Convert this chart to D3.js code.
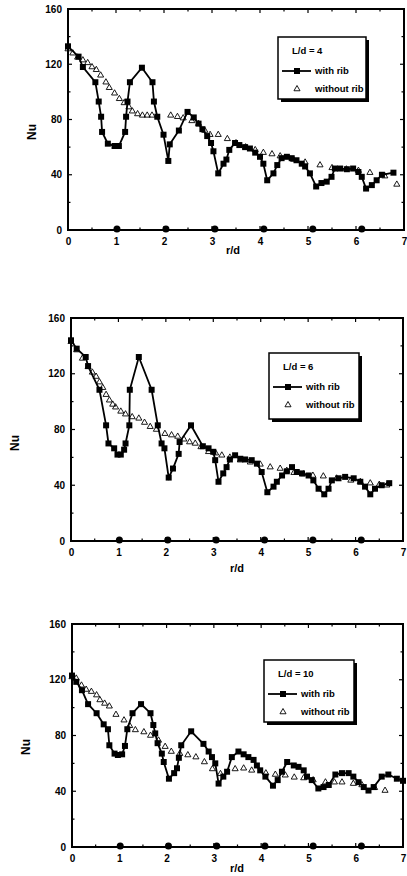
<!DOCTYPE html>
<html><head><meta charset="utf-8">
<script src="https://cdn.jsdelivr.net/npm/d3@7"></script>
<style>html,body{margin:0;padding:0;background:#fff;}svg{display:block;}</style>
</head><body>
<svg id="chart" width="407" height="876"></svg>
<script>
// ---------- data ----------
const xTicks = [0,1,2,3,4,5,6,7];
const yTicks = [0,40,80,120,160];
const ribPositions = [1.02,2.04,3.06,4.08,5.1,6.12];
const legendTitles = ["L/d = 4","L/d = 6","L/d = 10"];
const seriesNames = ["with rib","without rib"];

const withRib4 = [[0,133],[0.22,125.5],[0.31,118],[0.57,107],[0.64,93],[0.69,82],[0.71,71],[0.83,62.5],[0.97,60.8],[1.06,60.8],[1.19,71],[1.21,82],[1.24,93],[1.29,107],[1.54,117.5],[1.76,107],[1.79,93],[1.86,82],[1.99,69],[2.09,50],[2.12,62],[2.31,72],[2.49,85.5],[2.62,81.5],[2.72,77],[2.8,73],[2.9,68],[2.98,63],[3.03,57],[3.13,41],[3.24,48],[3.3,51],[3.36,58],[3.48,63],[3.57,61.5],[3.69,60],[3.79,59],[3.9,56],[4.0,53],[4.07,48],[4.15,36],[4.28,41],[4.36,47],[4.45,52],[4.56,53],[4.66,52],[4.76,50.5],[4.87,48],[4.94,46],[5.04,41],[5.17,31.5],[5.28,34],[5.39,35],[5.49,38.5],[5.56,44.5],[5.67,44.5],[5.81,44],[5.94,44.5],[6.05,42],[6.12,38.5],[6.21,30],[6.33,32.5],[6.43,36],[6.54,40],[6.78,41.5]];
const withoutRib4 = [[0,131],[0.1,128],[0.2,125],[0.31,123],[0.41,121],[0.5,118],[0.59,116],[0.68,112],[0.79,107],[0.86,103],[0.97,99],[1.07,95],[1.17,92],[1.27,89],[1.34,86],[1.45,84],[1.55,83],[1.65,83],[1.75,83],[2.14,83],[2.28,82],[2.4,81],[2.58,79],[2.72,77],[2.85,72],[2.96,69],[3.13,69],[3.32,66],[3.5,63],[3.7,60],[3.9,58],[4.07,56],[4.25,55],[4.42,53.5],[4.7,51],[4.94,49],[5.25,47],[5.5,45],[5.8,44],[6.05,43],[6.29,41.5],[6.6,39],[6.85,33]];

const withRib6 = [[0,144],[0.12,138],[0.31,132],[0.36,125.5],[0.6,108.5],[0.74,83],[0.79,70],[0.91,66.5],[0.98,62],[1.05,62],[1.12,65.5],[1.15,70],[1.23,83],[1.24,108.5],[1.43,132],[1.7,108.5],[1.83,83],[1.91,70],[1.97,66.5],[2.06,45.5],[2.15,52],[2.27,62.5],[2.29,71],[2.53,83],[2.78,68],[2.9,66.5],[3.0,64],[3.04,58],[3.11,42.5],[3.21,48.5],[3.28,53],[3.35,58.5],[3.46,61.5],[3.57,59],[3.67,58.5],[3.81,58],[3.92,55.5],[4.02,49.5],[4.14,35],[4.27,39],[4.34,42.5],[4.45,47],[4.55,50],[4.66,53],[4.76,49.5],[4.87,48.5],[5.01,47],[5.11,43.5],[5.22,37.5],[5.34,33.5],[5.43,37.5],[5.5,43.5],[5.64,45],[5.78,46],[5.96,45],[6.1,42.5],[6.2,39],[6.31,33.5],[6.41,37.5],[6.55,40],[6.71,41.5]];
const withoutRib6 = [[0,143],[0.12,137],[0.24,131],[0.36,125],[0.45,121],[0.53,118],[0.6,114],[0.67,110],[0.74,105],[0.81,101],[0.88,98],[0.94,96],[1.05,93],[1.15,91],[1.29,89],[1.43,88],[1.55,85],[1.67,82],[1.8,80],[1.98,77],[2.12,76],[2.25,75],[2.38,73],[2.5,71],[2.62,70],[2.74,67.5],[2.9,64],[3.05,63],[3.18,61.5],[3.35,60],[3.57,58],[3.78,56.5],[3.99,55],[4.2,53],[4.41,52],[4.55,50.5],[4.7,49],[4.9,48],[5.1,47],[5.32,46.5],[5.6,45],[5.9,43.5],[6.1,42.5],[6.31,41.5],[6.5,40.5],[6.66,40]];

const withRib10 = [[0,123],[0.09,118.5],[0.21,112.5],[0.34,102.5],[0.52,96],[0.67,88],[0.76,84.5],[0.79,73],[0.9,67],[0.97,66],[1.06,66.5],[1.12,72.5],[1.17,84.5],[1.28,96],[1.46,102.5],[1.66,96],[1.72,87.5],[1.76,81.5],[1.81,74.5],[1.9,67],[1.94,61],[2.05,49],[2.16,53],[2.22,56.5],[2.26,64],[2.31,73],[2.52,83],[2.78,74],[2.89,68.5],[2.96,64.5],[3.03,60],[3.1,45.5],[3.2,50.5],[3.28,54],[3.38,64.5],[3.52,68.5],[3.63,66.5],[3.73,64.5],[3.84,62.5],[3.91,58.5],[3.98,55],[4.09,50.5],[4.25,44],[4.35,48],[4.44,54],[4.55,61],[4.69,58.5],[4.79,57.5],[4.9,55],[4.97,50.5],[5.07,48],[5.21,42],[5.32,43],[5.43,44.5],[5.57,52],[5.71,53],[5.85,53],[5.95,50.5],[6.06,46.5],[6.17,43],[6.27,40.5],[6.38,43],[6.55,50.5],[6.69,52],[6.87,49],[7.0,47.5]];
const withoutRib10 = [[0,122],[0.09,121],[0.2,116],[0.3,113],[0.41,111.5],[0.52,109],[0.59,105.5],[0.69,103],[0.79,101],[0.93,95],[1.1,91],[1.22,87],[1.34,84],[1.52,82.5],[1.66,80],[1.83,76.5],[1.97,72],[2.1,68.5],[2.28,67],[2.45,66],[2.62,64.5],[2.8,61],[2.97,56],[3.14,52.5],[3.45,56],[3.63,56.5],[3.8,55],[4.1,53],[4.3,52],[4.51,51.5],[4.7,50],[4.9,49.5],[5.1,48],[5.36,46.5],[5.55,46.5],[5.71,46.5],[5.95,45.5],[6.13,44.5],[6.4,42.5],[6.62,40.5]];

// ---------- layout ----------
const panels = [
  {L:68, R:404, T:9,   B:230, withRib:withRib4,  withoutRib:withoutRib4,  title:legendTitles[0],
   leg:{x:278,y:37,w:88,h:62}, nu:{x:33,y:132}, rd:{x:233,dy:24}},
  {L:71, R:403, T:318, B:541, withRib:withRib6,  withoutRib:withoutRib6,  title:legendTitles[1],
   leg:{x:269,y:353,w:90,h:66}, nu:{x:16,y:443}, rd:{x:237,dy:31}},
  {L:72, R:403, T:624, B:847, withRib:withRib10, withoutRib:withoutRib10, title:legendTitles[2],
   leg:{x:264,y:660,w:90,h:62}, nu:{x:27,y:747}, rd:{x:237,dy:25}}
];

const svg = d3.select("#chart");
const FONT = "'Liberation Sans', Arial, sans-serif";

panels.forEach(p => {
  const g = svg.append("g");
  const x = d3.scaleLinear().domain([0,7]).range([p.L,p.R]);
  const y = d3.scaleLinear().domain([0,160]).range([p.B,p.T]);

  const xMinor = d3.range(0,7.01,0.5), yMinor = d3.range(0,160.1,20);
  xMinor.forEach(v => {
    const len = Number.isInteger(v) ? 4 : 2.5;
    g.append("line").attr("x1",x(v)).attr("x2",x(v)).attr("y1",p.B).attr("y2",p.B-len).attr("stroke","#000").attr("stroke-width",1.2);
    g.append("line").attr("x1",x(v)).attr("x2",x(v)).attr("y1",p.T).attr("y2",p.T+len).attr("stroke","#000").attr("stroke-width",1.2);
  });
  yMinor.forEach(v => {
    const len = v % 40 === 0 ? 4 : 2.5;
    g.append("line").attr("x1",p.L).attr("x2",p.L+len).attr("y1",y(v)).attr("y2",y(v)).attr("stroke","#000").attr("stroke-width",1.2);
    g.append("line").attr("x1",p.R).attr("x2",p.R-len).attr("y1",y(v)).attr("y2",y(v)).attr("stroke","#000").attr("stroke-width",1.2);
  });

  const xa = g.append("g").attr("transform",`translate(0,${p.B})`)
    .call(d3.axisBottom(x).tickValues(xTicks).tickSize(0).tickPadding(8).tickFormat(d3.format("d")));
  const ya = g.append("g").attr("transform",`translate(${p.L},0)`)
    .call(d3.axisLeft(y).tickValues(yTicks).tickSize(0).tickPadding(6).tickFormat(d3.format("d")));
  [xa,ya].forEach(a => {
    a.select(".domain").remove();
    a.selectAll("text").attr("font-family",FONT).attr("font-weight","bold").attr("font-size",10).attr("fill","#000");
  });

  g.append("rect").attr("x",p.L).attr("y",p.T).attr("width",p.R-p.L).attr("height",p.B-p.T)
    .attr("fill","none").attr("stroke","#000").attr("stroke-width",2);

  g.selectAll(".rib").data(ribPositions).join("circle")
    .attr("cx",d=>x(d)).attr("cy",p.B-1).attr("r",3.5).attr("fill","#000");

  const tri = d3.symbol().type(d3.symbolTriangle).size(16);
  g.selectAll(".wo").data(p.withoutRib).join("path")
    .attr("d",tri).attr("transform",d=>`translate(${x(d[0])},${y(d[1])})`)
    .attr("fill","none").attr("stroke","#000").attr("stroke-width",0.9);

  const line = d3.line().x(d=>x(d[0])).y(d=>y(d[1]));
  g.append("path").datum(p.withRib).attr("d",line).attr("fill","none").attr("stroke","#000").attr("stroke-width",1.8);
  const sq = d3.symbol().type(d3.symbolSquare).size(36);
  g.selectAll(".wr").data(p.withRib).join("path")
    .attr("d",sq).attr("transform",d=>`translate(${x(d[0])},${y(d[1])})`).attr("fill","#000");

  g.append("text").attr("transform",`translate(${p.nu.x},${p.nu.y}) rotate(-90)`)
    .attr("text-anchor","middle").attr("dominant-baseline","middle")
    .attr("font-family",FONT).attr("font-weight","bold").attr("font-size",12).text("Nu");
  g.append("text").attr("x",p.rd.x).attr("y",p.B+p.rd.dy).attr("text-anchor","middle")
    .attr("font-family",FONT).attr("font-weight","bold").attr("font-size",11).text("r/d");

  const l = p.leg;
  g.append("rect").attr("x",l.x+3).attr("y",l.y+3).attr("width",l.w).attr("height",l.h).attr("fill","#000");
  g.append("rect").attr("x",l.x).attr("y",l.y).attr("width",l.w).attr("height",l.h).attr("fill","#fff").attr("stroke","#000").attr("stroke-width",1.5);
  const txt = (tx,ty,s) => g.append("text").attr("x",tx).attr("y",ty).attr("dominant-baseline","middle")
    .attr("font-family",FONT).attr("font-weight","bold").attr("font-size",9.5).text(s);
  txt(l.x+14,l.y+14,p.title);
  g.append("line").attr("x1",l.x+4).attr("x2",l.x+33).attr("y1",l.y+34).attr("y2",l.y+34).attr("stroke","#000").attr("stroke-width",1.8);
  g.append("path").attr("d",sq).attr("transform",`translate(${l.x+19},${l.y+34})`).attr("fill","#000");
  txt(l.x+37,l.y+34,seriesNames[0]);
  g.append("path").attr("d",tri).attr("transform",`translate(${l.x+19},${l.y+52})`).attr("fill","none").attr("stroke","#000").attr("stroke-width",0.9);
  txt(l.x+37,l.y+52,seriesNames[1]);
});
</script>
</body></html>
